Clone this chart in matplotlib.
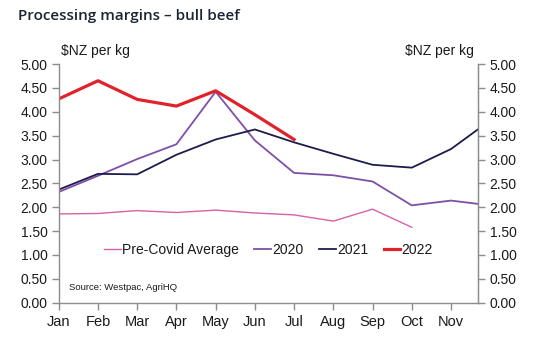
import matplotlib
matplotlib.use("Agg")
import matplotlib.pyplot as plt
import numpy as np

months = ["Jan", "Feb", "Mar", "Apr", "May", "Jun", "Jul", "Aug", "Sep", "Oct", "Nov", "Dec"]
tick_labels = months[:11]

pre_covid = [1.86, 1.87, 1.93, 1.89, 1.94, 1.88, 1.84, 1.71, 1.96, 1.58]
y2020 = [2.32, 2.66, 3.01, 3.32, 4.42, 3.40, 2.72, 2.67, 2.54, 2.04, 2.14, 2.04]
y2021 = [2.37, 2.70, 2.69, 3.10, 3.42, 3.63, 3.36, 3.12, 2.89, 2.83, 3.22, 3.82]
y2022 = [4.27, 4.65, 4.26, 4.12, 4.44, 3.94, 3.42]

text_col = "#1a1a1a"
spine_col = "#8c8c8c"
fs = 10
plt.rcParams["font.family"] = ["Liberation Sans", "DejaVu Sans"]

fig = plt.figure(figsize=(5.34, 3.39), dpi=100)
ax = fig.add_axes([0.110, 0.107, 0.786, 0.704])

x = np.arange(12)
ax.plot(x[:len(pre_covid)], pre_covid, color="#d760a8", lw=1.0, label="Pre-Covid Average")
ax.plot(x[:len(y2020)], y2020, color="#7e4fa8", lw=1.3, label="2020")
ax.plot(x[:len(y2021)], y2021, color="#1c1c4c", lw=1.3, label="2021")
ax.plot(x[:len(y2022)], y2022, color="#e0222b", lw=2.3, label="2022")

ax.set_xlim(0, 10.7)
ax.set_ylim(0, 5)
ax.set_xticks(np.arange(len(tick_labels)))
ax.set_xticklabels(tick_labels)
yt = np.arange(0, 5.01, 0.5)
ax.set_yticks(yt)
ax.set_yticklabels([f"{v:.2f}" for v in yt])

for s in ["left", "bottom", "right"]:
    ax.spines[s].set_color(spine_col)
    ax.spines[s].set_linewidth(1.0)
ax.spines["top"].set_visible(False)
ax.tick_params(axis="both", colors=spine_col, labelcolor=text_col, labelsize=fs,
               length=5, width=1.0, direction="out")
ax.tick_params(axis="y", pad=3)
ax.tick_params(axis="x", pad=4, labelsize=10.5)

ax2 = ax.twinx()
ax2.set_ylim(0, 5)
ax2.set_yticks(yt)
ax2.set_yticklabels([f"{v:.2f}" for v in yt])
for s in ["left", "bottom", "top"]:
    ax2.spines[s].set_visible(False)
ax2.spines["right"].set_color(spine_col)
ax2.tick_params(axis="y", colors=spine_col, labelcolor=text_col, labelsize=fs,
                length=5, width=1.0, direction="out", pad=3)

leg = ax.legend(loc="center", bbox_to_anchor=(0.50, 0.222), ncol=4, frameon=False,
                fontsize=fs, handlelength=1.2, handletextpad=0.1, columnspacing=1.1,
                borderpad=0.2)
for t in leg.get_texts():
    t.set_color(text_col)

ax.text(0.025, 0.045, "Source: Westpac, AgriHQ", transform=ax.transAxes,
        fontsize=6.8, color=text_col, va="bottom", ha="left")

fig.text(0.114, 0.850, r"\$NZ per kg", fontsize=fs, color=text_col, va="center", ha="left")
fig.text(0.888, 0.850, r"\$NZ per kg", fontsize=fs, color=text_col, va="center", ha="right")

fig.text(0.034, 0.952, "Processing margins – bull beef", fontsize=11, fontweight="semibold",
         family=["Open Sans", "DejaVu Sans"], color="#1c2434", va="center", ha="left")

fig.savefig("out.png", dpi=100)
